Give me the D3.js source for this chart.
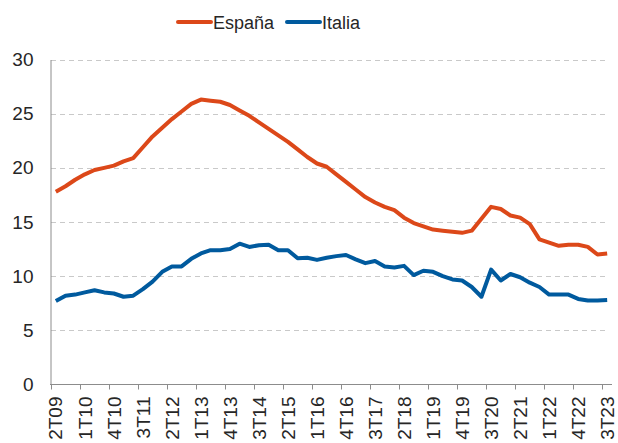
<!DOCTYPE html>
<html>
<head>
<meta charset="utf-8">
<script src="https://cdn.jsdelivr.net/npm/d3@7"></script>
<style>
  body { margin: 0; background: #fff; }
  svg { font-family: "Liberation Sans", Arial, sans-serif; }
</style>
</head>
<body>
<div id="chart"></div>
<script>
// quarters 2T09 .. 3T23
var quarters = [
  "2T09","3T09","4T09","1T10","2T10","3T10","4T10","1T11","2T11","3T11","4T11",
  "1T12","2T12","3T12","4T12","1T13","2T13","3T13","4T13","1T14","2T14","3T14","4T14",
  "1T15","2T15","3T15","4T15","1T16","2T16","3T16","4T16","1T17","2T17","3T17","4T17",
  "1T18","2T18","3T18","4T18","1T19","2T19","3T19","4T19","1T20","2T20","3T20","4T20",
  "1T21","2T21","3T21","4T21","1T22","2T22","3T22","4T22","1T23","2T23","3T23"
];
var tickLabels = ["2T09","1T10","4T10","3T11","2T12","1T13","4T13","3T14","2T15","1T16",
  "4T16","3T17","2T18","1T19","4T19","3T20","2T21","1T22","4T22","3T23"];
var yTicks = [0, 5, 10, 15, 20, 25, 30];

var espana = [17.8,18.3,18.9,19.4,19.8,20.0,20.2,20.6,20.9,21.9,22.9,23.7,24.5,25.2,25.9,
  26.3,26.2,26.1,25.8,25.3,24.8,24.2,23.6,23.0,22.4,21.7,21.0,20.4,20.1,19.4,18.7,18.0,
  17.3,16.8,16.4,16.1,15.4,14.9,14.6,14.3,14.2,14.1,14.0,14.2,15.3,16.4,16.2,15.6,15.4,
  14.8,13.4,13.1,12.8,12.9,12.9,12.7,12.0,12.1];
var italia = [7.7,8.2,8.3,8.5,8.7,8.5,8.4,8.1,8.2,8.8,9.5,10.4,10.9,10.9,11.6,12.1,12.4,
  12.4,12.5,13.0,12.7,12.85,12.9,12.4,12.4,11.65,11.7,11.5,11.7,11.85,11.95,11.55,11.2,
  11.4,10.9,10.8,10.95,10.1,10.5,10.4,10.0,9.7,9.6,9.0,8.1,10.6,9.6,10.2,9.9,9.4,9.0,
  8.3,8.3,8.3,7.9,7.75,7.75,7.8];

var series = [
  {name: "España", values: espana, color: "#dc4819"},
  {name: "Italia", values: italia, color: "#005a9e"}
];

var w = 618, h = 443;
var mLeft = 51, mRight = 612, mTop = 59.5, mBottom = 384.5;

var svg = d3.select("#chart").append("svg")
  .attr("width", w)
  .attr("height", h);

var x = d3.scaleBand().domain(quarters).range([mLeft, mRight]).paddingInner(0).paddingOuter(0);
var y = d3.scaleLinear().domain([0, 30]).range([mBottom, mTop]);

// grid
svg.append("g").selectAll("line")
  .data(yTicks.filter(function(d) { return d > 0; }))
  .enter().append("line")
  .attr("x1", mLeft).attr("x2", 608)
  .attr("y1", function(d) { return Math.round(y(d)) + 0.5; })
  .attr("y2", function(d) { return Math.round(y(d)) + 0.5; })
  .attr("stroke", "#c9c9c9")
  .attr("stroke-width", 1)
  .attr("stroke-dasharray", "5,4");

// y axis
var yAxis = svg.append("g")
  .attr("transform", "translate(" + (mLeft - 0.5) + ",0)")
  .call(d3.axisLeft(y).tickValues(yTicks).tickSize(0).tickPadding(17));
yAxis.select(".domain").attr("stroke", "#8c8c8c");
yAxis.selectAll("text").attr("font-size", 19).attr("fill", "#262626")
  .attr("font-family", "Liberation Sans, Arial, sans-serif");

// x axis: ticks on category boundaries, labels at category centres
var xg = svg.append("g");
xg.append("line")
  .attr("x1", mLeft - 1).attr("x2", mRight)
  .attr("y1", mBottom).attr("y2", mBottom)
  .attr("stroke", "#8c8c8c");
xg.selectAll(".tick")
  .data(tickLabels)
  .enter().append("line")
  .attr("x1", function(d) { return Math.round(x(d)) + 0.5; })
  .attr("x2", function(d) { return Math.round(x(d)) + 0.5; })
  .attr("y1", mBottom).attr("y2", mBottom + 5)
  .attr("stroke", "#8c8c8c");
xg.selectAll("text")
  .data(tickLabels)
  .enter().append("text")
  .attr("transform", function(d) {
    return "translate(" + (x(d) + x.bandwidth() / 2) + "," + (mBottom + 12) + ") rotate(-90)";
  })
  .attr("dy", "0.35em")
  .attr("text-anchor", "end")
  .attr("font-size", 19)
  .attr("fill", "#262626")
  .text(function(d) { return d; });

// lines
var line = d3.line()
  .x(function(d, i) { return x(quarters[i]) + x.bandwidth() / 2; })
  .y(function(d) { return y(d); });

svg.selectAll(".series")
  .data(series)
  .enter().append("path")
  .attr("class", "series")
  .attr("d", function(s) { return line(s.values); })
  .attr("fill", "none")
  .attr("stroke", function(s) { return s.color; })
  .attr("stroke-width", 4)
  .attr("stroke-linejoin", "round");

// legend
var legendX = [178, 287];
var lg = svg.selectAll(".legend")
  .data(series)
  .enter().append("g")
  .attr("transform", function(s, i) { return "translate(" + legendX[i] + ",22)"; });
lg.append("line")
  .attr("x1", 0).attr("x2", 33)
  .attr("stroke", function(s) { return s.color; })
  .attr("stroke-width", 4)
  .attr("stroke-linecap", "round");
lg.append("text")
  .attr("x", 35).attr("y", 6.5)
  .attr("font-size", 18)
  .attr("fill", "#262626")
  .text(function(s) { return s.name; });
</script>
</body>
</html>
